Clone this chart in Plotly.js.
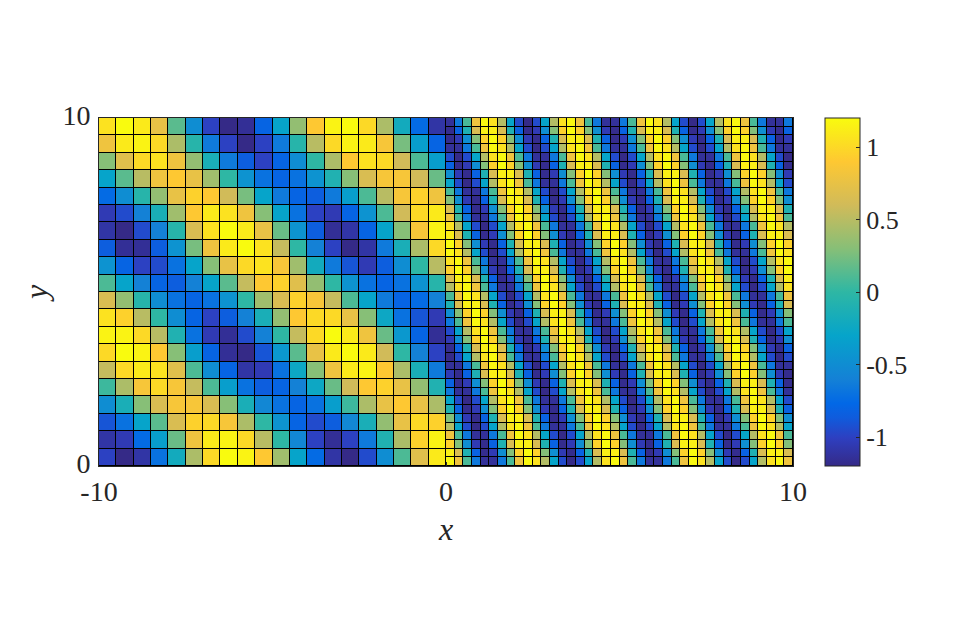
<!DOCTYPE html>
<html>
<head>
<meta charset="utf-8">
<script src="https://cdn.plot.ly/plotly-3.0.1.min.js"></script>
<style>
    html, body { margin: 0; padding: 0; background: #fff; }
</style>
</head>
<body>
<div id="chart" style="width:957px;height:630px;"></div>
<script>
    // Ticks
    var xTickVals = [-10, 0, 10];
    var xTickText = ['-10', '0', '10'];
    var yTickVals = [0, 10];
    var yTickText = ['0', '10'];
    var barTickVals = [-1, -0.5, 0, 0.5, 1];
    var barTickText = ['-1', '-0.5', '0', '0.5', '1'];

    // Left block, read cell by cell, top row first
    var leftRows = [
        [1.05,1.2,1.1,0.75,0.15,-0.5,-1,-1.2,-1.15,-0.8,-0.3,0.35,0.9,1.15,1.2,1,0.45,-0.2,-0.75,-1.1],
        [0.8,1.1,1.15,1,0.45,-0.05,-0.65,-1,-1.2,-1,-0.65,-0.05,0.5,1,1.15,1.1,0.85,0.25,-0.35,-0.8],
        [0.3,0.7,1,1.05,0.8,0.35,-0.15,-0.65,-0.85,-1,-0.8,-0.5,0,0.45,0.9,1.05,1,0.6,0.1,-0.35],
        [-0.3,0.15,0.5,0.8,0.9,0.75,0.4,0,-0.45,-0.7,-0.8,-0.7,-0.45,-0.1,0.3,0.65,0.85,0.85,0.6,0.2],
        [-0.75,-0.5,-0.05,0.35,0.75,0.95,0.9,0.6,0.25,-0.3,-0.65,-0.8,-0.85,-0.65,-0.35,0.1,0.5,0.85,0.95,0.8],
        [-1.05,-0.95,-0.6,-0.15,0.4,0.9,1.1,1.05,0.8,0.3,-0.3,-0.7,-1,-1.05,-0.8,-0.45,0.1,0.6,1,1.1],
        [-1.1,-1.2,-0.95,-0.6,-0.05,0.65,1.05,1.2,1.1,0.75,0.2,-0.45,-0.85,-1.15,-1.1,-0.8,-0.3,0.3,0.85,1.15],
        [-0.85,-1.15,-1.15,-0.85,-0.45,0.25,0.8,1.1,1.2,1.05,0.55,0,-0.6,-1,-1.2,-1.1,-0.65,-0.15,0.45,1],
        [-0.45,-0.8,-1,-0.95,-0.7,-0.3,0.3,0.75,1,1.05,0.85,0.4,-0.2,-0.65,-0.9,-1.05,-0.85,-0.5,0,0.5],
        [0.1,-0.3,-0.6,-0.8,-0.85,-0.6,-0.3,0.15,0.55,0.9,0.95,0.7,0.35,0,-0.45,-0.7,-0.8,-0.7,-0.45,-0.05],
        [0.65,0.35,-0.05,-0.5,-0.7,-0.8,-0.7,-0.45,0,0.4,0.65,0.95,0.85,0.55,0.1,-0.3,-0.65,-0.8,-0.75,-0.6],
        [1.05,0.95,0.5,0,-0.5,-0.8,-1,-0.85,-0.6,-0.15,0.35,0.9,1,1,0.75,0.3,-0.25,-0.7,-0.9,-1.05],
        [1.15,1.15,1,0.5,-0.1,-0.7,-1.05,-1.15,-0.95,-0.6,0,0.55,1,1.2,1.1,0.8,0.2,-0.4,-0.8,-1.15],
        [1,1.2,1.15,0.9,0.3,-0.35,-0.8,-1.15,-1.2,-0.9,-0.4,0.15,0.75,1.1,1.2,1.1,0.6,0,-0.6,-1],
        [0.55,1,1.1,1.05,0.7,0.1,-0.5,-0.8,-1.1,-1.05,-0.7,-0.25,0.3,0.8,1.1,1.15,0.9,0.45,-0.15,-0.65],
        [0.05,0.45,0.85,1,0.85,0.55,0.1,-0.35,-0.7,-0.85,-0.8,-0.6,-0.25,0.2,0.6,0.9,0.95,0.75,0.35,-0.1],
        [-0.5,-0.15,0.3,0.65,0.85,0.85,0.65,0.3,-0.15,-0.55,-0.7,-0.8,-0.7,-0.35,0.05,0.45,0.75,0.9,0.75,0.45],
        [-0.9,-0.7,-0.3,0.15,0.65,0.95,1,0.85,0.45,0,-0.45,-0.8,-0.95,-0.85,-0.55,-0.15,0.35,0.75,1,0.95],
        [-1.1,-1.05,-0.75,-0.35,0.2,0.8,1.1,1.15,1,0.5,0,-0.55,-1,-1.15,-1,-0.65,-0.1,0.45,0.95,1.15],
        [-1,-1.2,-1.1,-0.7,-0.2,0.45,1,1.2,1.15,0.9,0.4,-0.3,-0.75,-1.1,-1.2,-0.95,-0.5,0.1,0.7,1.1]
    ];

    // Right block, estimated by eye from the stripe position in each row, top row first
    var rightRows = [
        [-1.14,-.66,.09,.8,1.18,1.05,.48,-.3,-.95,-1.2,-.95,-.3,.48,1.05,1.18,.8,.09,-.66,-1.14,-1.14,-.66,.09,.8,1.18,1.05,.48,-.3,-.95,-1.2,-.95,-.3,.48,1.05,1.18,.8,.09,-.66,-1.14,-1.14,-.66],
        [-1.18,-.82,-.11,.65,1.13,1.13,.65,-.11,-.82,-1.18,-1.05,-.49,.29,.95,1.2,.95,.29,-.49,-1.05,-1.18,-.82,-.11,.65,1.13,1.13,.65,-.11,-.82,-1.18,-1.05,-.49,.29,.95,1.2,.95,.29,-.49,-1.05,-1.18,-.82],
        [-1.18,-1.05,-.49,.29,.95,1.2,.95,.29,-.49,-1.05,-1.18,-.82,-.11,.65,1.13,1.13,.65,-.11,-.82,-1.18,-1.05,-.49,.29,.95,1.2,.95,.29,-.49,-1.05,-1.18,-.82,-.11,.65,1.13,1.13,.65,-.11,-.82,-1.18,-1.05],
        [-1.14,-1.14,-.66,.09,.8,1.18,1.05,.48,-.3,-.95,-1.2,-.95,-.3,.48,1.05,1.18,.8,.09,-.66,-1.14,-1.14,-.66,.09,.8,1.18,1.05,.48,-.3,-.95,-1.2,-.95,-.3,.48,1.05,1.18,.8,.09,-.66,-1.14,-1.14],
        [-.95,-1.2,-.95,-.3,.48,1.05,1.18,.8,.09,-.66,-1.14,-1.14,-.66,.09,.8,1.18,1.05,.48,-.3,-.95,-1.2,-.95,-.3,.48,1.05,1.18,.8,.09,-.66,-1.14,-1.14,-.66,.09,.8,1.18,1.05,.48,-.3,-.95,-1.2],
        [-.82,-1.18,-1.05,-.49,.29,.95,1.2,.95,.29,-.49,-1.05,-1.18,-.82,-.11,.65,1.13,1.13,.65,-.11,-.82,-1.18,-1.05,-.49,.29,.95,1.2,.95,.29,-.49,-1.05,-1.18,-.82,-.11,.65,1.13,1.13,.65,-.11,-.82,-1.18],
        [-.49,-1.05,-1.18,-.82,-.11,.65,1.13,1.13,.65,-.11,-.82,-1.18,-1.05,-.49,.29,.95,1.2,.95,.29,-.49,-1.05,-1.18,-.82,-.11,.65,1.13,1.13,.65,-.11,-.82,-1.18,-1.05,-.49,.29,.95,1.2,.95,.29,-.49,-1.05],
        [-.3,-.95,-1.2,-.95,-.3,.48,1.05,1.18,.8,.09,-.66,-1.14,-1.14,-.66,.09,.8,1.18,1.05,.48,-.3,-.95,-1.2,-.95,-.3,.48,1.05,1.18,.8,.09,-.66,-1.14,-1.14,-.66,.09,.8,1.18,1.05,.48,-.3,-.95],
        [.09,-.66,-1.14,-1.14,-.66,.09,.8,1.18,1.05,.48,-.3,-.95,-1.2,-.95,-.3,.48,1.05,1.18,.8,.09,-.66,-1.14,-1.14,-.66,.09,.8,1.18,1.05,.48,-.3,-.95,-1.2,-.95,-.3,.48,1.05,1.18,.8,.09,-.66],
        [.29,-.49,-1.05,-1.18,-.82,-.11,.65,1.13,1.13,.65,-.11,-.82,-1.18,-1.05,-.49,.29,.95,1.2,.95,.29,-.49,-1.05,-1.18,-.82,-.11,.65,1.13,1.13,.65,-.11,-.82,-1.18,-1.05,-.49,.29,.95,1.2,.95,.29,-.49],
        [.65,-.11,-.82,-1.18,-1.05,-.49,.29,.95,1.2,.95,.29,-.49,-1.05,-1.18,-.82,-.11,.65,1.13,1.13,.65,-.11,-.82,-1.18,-1.05,-.49,.29,.95,1.2,.95,.29,-.49,-1.05,-1.18,-.82,-.11,.65,1.13,1.13,.65,-.11],
        [.8,.09,-.66,-1.14,-1.14,-.66,.09,.8,1.18,1.05,.48,-.3,-.95,-1.2,-.95,-.3,.48,1.05,1.18,.8,.09,-.66,-1.14,-1.14,-.66,.09,.8,1.18,1.05,.48,-.3,-.95,-1.2,-.95,-.3,.48,1.05,1.18,.8,.09],
        [1.05,.48,-.3,-.95,-1.2,-.95,-.3,.48,1.05,1.18,.8,.09,-.66,-1.14,-1.14,-.66,.09,.8,1.18,1.05,.48,-.3,-.95,-1.2,-.95,-.3,.48,1.05,1.18,.8,.09,-.66,-1.14,-1.14,-.66,.09,.8,1.18,1.05,.48],
        [1.13,.65,-.11,-.82,-1.18,-1.05,-.49,.29,.95,1.2,.95,.29,-.49,-1.05,-1.18,-.82,-.11,.65,1.13,1.13,.65,-.11,-.82,-1.18,-1.05,-.49,.29,.95,1.2,.95,.29,-.49,-1.05,-1.18,-.82,-.11,.65,1.13,1.13,.65],
        [1.2,.95,.29,-.49,-1.05,-1.18,-.82,-.11,.65,1.13,1.13,.65,-.11,-.82,-1.18,-1.05,-.49,.29,.95,1.2,.95,.29,-.49,-1.05,-1.18,-.82,-.11,.65,1.13,1.13,.65,-.11,-.82,-1.18,-1.05,-.49,.29,.95,1.2,.95],
        [1.18,1.05,.48,-.3,-.95,-1.2,-.95,-.3,.48,1.05,1.18,.8,.09,-.66,-1.14,-1.14,-.66,.09,.8,1.18,1.05,.48,-.3,-.95,-1.2,-.95,-.3,.48,1.05,1.18,.8,.09,-.66,-1.14,-1.14,-.66,.09,.8,1.18,1.05],
        [1.05,1.18,.8,.09,-.66,-1.14,-1.14,-.66,.09,.8,1.18,1.05,.48,-.3,-.95,-1.2,-.95,-.3,.48,1.05,1.18,.8,.09,-.66,-1.14,-1.14,-.66,.09,.8,1.18,1.05,.48,-.3,-.95,-1.2,-.95,-.3,.48,1.05,1.18],
        [.95,1.2,.95,.29,-.49,-1.05,-1.18,-.82,-.11,.65,1.13,1.13,.65,-.11,-.82,-1.18,-1.05,-.49,.29,.95,1.2,.95,.29,-.49,-1.05,-1.18,-.82,-.11,.65,1.13,1.13,.65,-.11,-.82,-1.18,-1.05,-.49,.29,.95,1.2],
        [.65,1.13,1.13,.65,-.11,-.82,-1.18,-1.05,-.49,.29,.95,1.2,.95,.29,-.49,-1.05,-1.18,-.82,-.11,.65,1.13,1.13,.65,-.11,-.82,-1.18,-1.05,-.49,.29,.95,1.2,.95,.29,-.49,-1.05,-1.18,-.82,-.11,.65,1.13],
        [.48,1.05,1.18,.8,.09,-.66,-1.14,-1.14,-.66,.09,.8,1.18,1.05,.48,-.3,-.95,-1.2,-.95,-.3,.48,1.05,1.18,.8,.09,-.66,-1.14,-1.14,-.66,.09,.8,1.18,1.05,.48,-.3,-.95,-1.2,-.95,-.3,.48,1.05],
        [.09,.8,1.18,1.05,.48,-.3,-.95,-1.2,-.95,-.3,.48,1.05,1.18,.8,.09,-.66,-1.14,-1.14,-.66,.09,.8,1.18,1.05,.48,-.3,-.95,-1.2,-.95,-.3,.48,1.05,1.18,.8,.09,-.66,-1.14,-1.14,-.66,.09,.8],
        [-.11,.65,1.13,1.13,.65,-.11,-.82,-1.18,-1.05,-.49,.29,.95,1.2,.95,.29,-.49,-1.05,-1.18,-.82,-.11,.65,1.13,1.13,.65,-.11,-.82,-1.18,-1.05,-.49,.29,.95,1.2,.95,.29,-.49,-1.05,-1.18,-.82,-.11,.65],
        [-.49,.29,.95,1.2,.95,.29,-.49,-1.05,-1.18,-.82,-.11,.65,1.13,1.13,.65,-.11,-.82,-1.18,-1.05,-.49,.29,.95,1.2,.95,.29,-.49,-1.05,-1.18,-.82,-.11,.65,1.13,1.13,.65,-.11,-.82,-1.18,-1.05,-.49,.29],
        [-.66,.09,.8,1.18,1.05,.48,-.3,-.95,-1.2,-.95,-.3,.48,1.05,1.18,.8,.09,-.66,-1.14,-1.14,-.66,.09,.8,1.18,1.05,.48,-.3,-.95,-1.2,-.95,-.3,.48,1.05,1.18,.8,.09,-.66,-1.14,-1.14,-.66,.09],
        [-.95,-.3,.48,1.05,1.18,.8,.09,-.66,-1.14,-1.14,-.66,.09,.8,1.18,1.05,.48,-.3,-.95,-1.2,-.95,-.3,.48,1.05,1.18,.8,.09,-.66,-1.14,-1.14,-.66,.09,.8,1.18,1.05,.48,-.3,-.95,-1.2,-.95,-.3],
        [-1.05,-.49,.29,.95,1.2,.95,.29,-.49,-1.05,-1.18,-.82,-.11,.65,1.13,1.13,.65,-.11,-.82,-1.18,-1.05,-.49,.29,.95,1.2,.95,.29,-.49,-1.05,-1.18,-.82,-.11,.65,1.13,1.13,.65,-.11,-.82,-1.18,-1.05,-.49],
        [-1.18,-.82,-.11,.65,1.13,1.13,.65,-.11,-.82,-1.18,-1.05,-.49,.29,.95,1.2,.95,.29,-.49,-1.05,-1.18,-.82,-.11,.65,1.13,1.13,.65,-.11,-.82,-1.18,-1.05,-.49,.29,.95,1.2,.95,.29,-.49,-1.05,-1.18,-.82],
        [-1.2,-.95,-.3,.48,1.05,1.18,.8,.09,-.66,-1.14,-1.14,-.66,.09,.8,1.18,1.05,.48,-.3,-.95,-1.2,-.95,-.3,.48,1.05,1.18,.8,.09,-.66,-1.14,-1.14,-.66,.09,.8,1.18,1.05,.48,-.3,-.95,-1.2,-.95],
        [-1.14,-1.14,-.66,.09,.8,1.18,1.05,.48,-.3,-.95,-1.2,-.95,-.3,.48,1.05,1.18,.8,.09,-.66,-1.14,-1.14,-.66,.09,.8,1.18,1.05,.48,-.3,-.95,-1.2,-.95,-.3,.48,1.05,1.18,.8,.09,-.66,-1.14,-1.14],
        [-1.05,-1.18,-.82,-.11,.65,1.13,1.13,.65,-.11,-.82,-1.18,-1.05,-.49,.29,.95,1.2,.95,.29,-.49,-1.05,-1.18,-.82,-.11,.65,1.13,1.13,.65,-.11,-.82,-1.18,-1.05,-.49,.29,.95,1.2,.95,.29,-.49,-1.05,-1.18],
        [-.82,-1.18,-1.05,-.49,.29,.95,1.2,.95,.29,-.49,-1.05,-1.18,-.82,-.11,.65,1.13,1.13,.65,-.11,-.82,-1.18,-1.05,-.49,.29,.95,1.2,.95,.29,-.49,-1.05,-1.18,-.82,-.11,.65,1.13,1.13,.65,-.11,-.82,-1.18],
        [-.66,-1.14,-1.14,-.66,.09,.8,1.18,1.05,.48,-.3,-.95,-1.2,-.95,-.3,.48,1.05,1.18,.8,.09,-.66,-1.14,-1.14,-.66,.09,.8,1.18,1.05,.48,-.3,-.95,-1.2,-.95,-.3,.48,1.05,1.18,.8,.09,-.66,-1.14],
        [-.3,-.95,-1.2,-.95,-.3,.48,1.05,1.18,.8,.09,-.66,-1.14,-1.14,-.66,.09,.8,1.18,1.05,.48,-.3,-.95,-1.2,-.95,-.3,.48,1.05,1.18,.8,.09,-.66,-1.14,-1.14,-.66,.09,.8,1.18,1.05,.48,-.3,-.95],
        [-.11,-.82,-1.18,-1.05,-.49,.29,.95,1.2,.95,.29,-.49,-1.05,-1.18,-.82,-.11,.65,1.13,1.13,.65,-.11,-.82,-1.18,-1.05,-.49,.29,.95,1.2,.95,.29,-.49,-1.05,-1.18,-.82,-.11,.65,1.13,1.13,.65,-.11,-.82],
        [.29,-.49,-1.05,-1.18,-.82,-.11,.65,1.13,1.13,.65,-.11,-.82,-1.18,-1.05,-.49,.29,.95,1.2,.95,.29,-.49,-1.05,-1.18,-.82,-.11,.65,1.13,1.13,.65,-.11,-.82,-1.18,-1.05,-.49,.29,.95,1.2,.95,.29,-.49],
        [.48,-.3,-.95,-1.2,-.95,-.3,.48,1.05,1.18,.8,.09,-.66,-1.14,-1.14,-.66,.09,.8,1.18,1.05,.48,-.3,-.95,-1.2,-.95,-.3,.48,1.05,1.18,.8,.09,-.66,-1.14,-1.14,-.66,.09,.8,1.18,1.05,.48,-.3],
        [.8,.09,-.66,-1.14,-1.14,-.66,.09,.8,1.18,1.05,.48,-.3,-.95,-1.2,-.95,-.3,.48,1.05,1.18,.8,.09,-.66,-1.14,-1.14,-.66,.09,.8,1.18,1.05,.48,-.3,-.95,-1.2,-.95,-.3,.48,1.05,1.18,.8,.09],
        [.95,.29,-.49,-1.05,-1.18,-.82,-.11,.65,1.13,1.13,.65,-.11,-.82,-1.18,-1.05,-.49,.29,.95,1.2,.95,.29,-.49,-1.05,-1.18,-.82,-.11,.65,1.13,1.13,.65,-.11,-.82,-1.18,-1.05,-.49,.29,.95,1.2,.95,.29],
        [1.13,.65,-.11,-.82,-1.18,-1.05,-.49,.29,.95,1.2,.95,.29,-.49,-1.05,-1.18,-.82,-.11,.65,1.13,1.13,.65,-.11,-.82,-1.18,-1.05,-.49,.29,.95,1.2,.95,.29,-.49,-1.05,-1.18,-.82,-.11,.65,1.13,1.13,.65],
        [1.18,.8,.09,-.66,-1.14,-1.14,-.66,.09,.8,1.18,1.05,.48,-.3,-.95,-1.2,-.95,-.3,.48,1.05,1.18,.8,.09,-.66,-1.14,-1.14,-.66,.09,.8,1.18,1.05,.48,-.3,-.95,-1.2,-.95,-.3,.48,1.05,1.18,.8]
    ];

    var colorStops = [
        [0, '#352a87'], [0.08, '#2e3fc0'], [0.14, '#0f5cdd'], [0.18, '#0268e6'],
        [0.25, '#1481d6'], [0.375, '#06a4ca'], [0.5, '#2eb7a4'], [0.625, '#87bf77'],
        [0.75, '#d1bb59'], [0.875, '#fec832'], [1, '#f9fb0e']
    ];

    var textColor = '#262626';
    var textFont = '"Liberation Serif", "Times New Roman", Times, serif';

    var leftTrace = {
        type: 'heatmap',
        z: leftRows.slice().reverse(),
        x0: -9.75, dx: 0.5,
        y0: 0.25, dy: 0.5,
        xgap: 1, ygap: 1,
        coloraxis: 'coloraxis',
        hoverongaps: false
    };

    var rightTrace = {
        type: 'heatmap',
        z: rightRows.slice().reverse(),
        x0: 0.125, dx: 0.25,
        y0: 0.125, dy: 0.25,
        xgap: 1, ygap: 1,
        coloraxis: 'coloraxis',
        hoverongaps: false
    };

    var layout = {
        width: 957,
        height: 630,
        margin: { t: 118, r: 164, b: 164, l: 99, pad: 0 },
        paper_bgcolor: '#ffffff',
        plot_bgcolor: '#000000',
        showlegend: false,
        font: { family: textFont, color: textColor, size: 28 },
        xaxis: {
            range: [-10, 10],
            tickmode: 'array', tickvals: xTickVals, ticktext: xTickText,
            ticks: 'inside', ticklen: 4, tickcolor: textColor, tickwidth: 1,
            showline: true, mirror: true, linecolor: textColor, linewidth: 1,
            showgrid: false, zeroline: false,
            tickfont: { family: textFont, size: 28, color: textColor },
            title: { text: '<i>x</i>', font: { family: textFont, size: 32, color: textColor }, standoff: 12 }
        },
        yaxis: {
            range: [0, 10],
            tickmode: 'array', tickvals: yTickVals, ticktext: yTickText,
            ticks: 'inside', ticklen: 4, tickcolor: textColor, tickwidth: 1,
            ticklabelshift: -3, ticklabelstandoff: 2,
            showline: true, mirror: true, linecolor: textColor, linewidth: 1,
            showgrid: false, zeroline: false,
            tickfont: { family: textFont, size: 28, color: textColor },
            title: { text: '<i>y</i>', font: { family: textFont, size: 32, color: textColor }, standoff: 5 }
        },
        coloraxis: {
            cmin: -1.2, cmax: 1.2,
            colorscale: colorStops,
            colorbar: {
                x: 1.0461, xanchor: 'left', xpad: 0,
                y: 0.5, yanchor: 'middle', ypad: 0,
                len: 1, lenmode: 'fraction',
                thickness: 35, thicknessmode: 'pixels',
                outlinewidth: 1, outlinecolor: textColor,
                tickmode: 'array', tickvals: barTickVals, ticktext: barTickText,
                ticks: 'inside', ticklen: 4, tickcolor: textColor, tickwidth: 1,
                tickfont: { family: textFont, size: 26, color: textColor }
            }
        }
    };

    Plotly.newPlot('chart', [leftTrace, rightTrace], layout, { displayModeBar: false, responsive: false });
</script>
</body>
</html>
